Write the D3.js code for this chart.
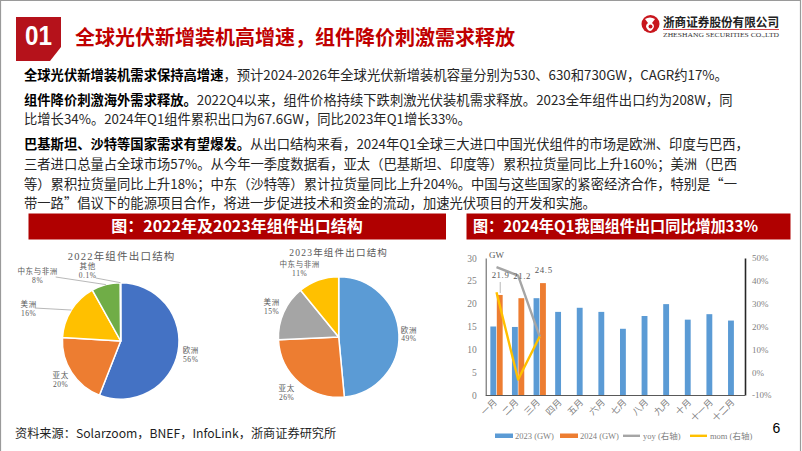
<!DOCTYPE html>
<html><head><meta charset="utf-8">
<script src="https://cdn.jsdelivr.net/npm/d3@7/dist/d3.min.js"></script>
<style>
html,body{margin:0;padding:0;background:#fff;}
svg{display:block;}
</style></head>
<body>
<svg id="s" width="802" height="451"></svg>
<script>
// ---------- data ----------
const pie2022Names = ["欧洲","亚太","美洲","中东与非洲","其他"];
const pie2022Values = [56,20,16,8,0.1];
const pie2022Labels = ["56%","20%","16%","8%","0.1%"];
const pie2023Names = ["欧洲","亚太","美洲","中东与非洲"];
const pie2023Values = [49,26,15,11];
const pie2023Labels = ["49%","26%","15%","11%"];

const months = ["一月","二月","三月","四月","五月","六月","七月","八月","九月","十月","十一月","十二月"];
const exp2023 = [15.0,14.9,21.2,18.2,19.1,18.2,14.5,17.3,19.9,16.5,17.7,16.3];
const exp2024 = [21.9,21.2,24.5];
const yoy = [0.46,0.423,0.156];
const mom = [0.35,-0.032,0.156];
const leftTicks = [0,5,10,15,20,25,30];
const rightTicks = [-0.1,0,0.1,0.2,0.3,0.4,0.5];

const bodyLines = [
  [[1,"全球光伏新增装机需求保持高增速"],[0,"，预计2024-2026年全球光伏新增装机容量分别为530、630和730GW，CAGR约17%。"]],
  [[1,"组件降价刺激海外需求释放。"],[0,"2022Q4以来，组件价格持续下跌刺激光伏装机需求释放。2023全年组件出口约为208W，同"]],
  [[0,"比增长34%。2024年Q1组件累积出口为67.6GW，同比2023年Q1增长33%。"]],
  [[1,"巴基斯坦、沙特等国家需求有望爆发。"],[0,"从出口结构来看，2024年Q1全球三大进口中国光伏组件的市场是欧洲、印度与巴西，"]],
  [[0,"三者进口总量占全球市场57%。从今年一季度数据看，亚太（巴基斯坦、印度等）累积拉货量同比上升160%；美洲（巴西"]],
  [[0,"等）累积拉货量同比上升18%；中东（沙特等）累计拉货量同比上升204%。中国与这些国家的紧密经济合作，特别是“一"]],
  [[0,"带一路”倡议下的能源项目合作，将进一步促进技术和资金的流动，加速光伏项目的开发和实施。"]]
];
const bodyY = [80, 105, 124, 149, 169, 188.5, 207.5];

// ---------- setup ----------
const svg = d3.select("#s");
const CJK = "'Noto Sans CJK SC','Noto Sans',sans-serif";
const SER = "'Liberation Serif','DejaVu Serif','Noto Sans CJK SC',serif";
const RED = "#C00000";

// frame
svg.append("path").attr("d","M0.5,451 V0.5 H800.5 V451").attr("fill","none").attr("stroke","#9a9a9a").attr("stroke-width",1.2);

// header box "01"
svg.append("path").attr("d","M16,17 H61 V47 L50,61 H16 Z").attr("fill","#B5121B");
svg.append("text").attr("x",38.5).attr("y",45).attr("text-anchor","middle")
  .attr("font-family","'Liberation Sans',Arial,sans-serif").attr("font-weight","bold").attr("font-size",27)
  .attr("fill","#fff").attr("textLength",27).attr("lengthAdjust","spacingAndGlyphs").text("01");
svg.append("text").attr("x",75).attr("y",44.5).attr("font-family",CJK).attr("font-weight","bold")
  .attr("font-size",20).attr("fill",RED).attr("textLength",440).attr("lengthAdjust","spacingAndGlyphs")
  .text("全球光伏新增装机高增速，组件降价刺激需求释放");

// logo
const logo = svg.append("g");
logo.append("circle").attr("cx",650.5).attr("cy",24).attr("r",9).attr("fill","#C8161D");
logo.append("path").attr("d","M645,19 Q650,16 655,19 L652,23 Q656,26 652,30 Q650,32 648,30 Q644,26 648,23 Z").attr("fill","#fff");
logo.append("circle").attr("cx",650.5).attr("cy",26.5).attr("r",2).attr("fill","#C8161D");
logo.append("text").attr("x",663).attr("y",26.5).attr("font-family",CJK).attr("font-weight","bold")
  .attr("font-size",12.5).attr("fill","#222").attr("textLength",116).attr("lengthAdjust","spacingAndGlyphs").text("浙商证券股份有限公司");
logo.append("line").attr("x1",663).attr("x2",779).attr("y1",29.5).attr("y2",29.5).attr("stroke","#C8161D").attr("stroke-width",0.8);
logo.append("text").attr("x",663).attr("y",36.5).attr("font-family",SER)
  .attr("font-size",7).attr("fill","#333").attr("textLength",116).attr("lengthAdjust","spacingAndGlyphs").text("ZHESHANG SECURITIES CO.,LTD");

// body text
bodyLines.forEach((ln,i)=>{
  const t = svg.append("text").attr("x",24).attr("y",bodyY[i]).attr("font-family",CJK)
    .attr("font-size",13.3).attr("fill","#1f1f1f");
  ln.forEach(seg=>{
    t.append("tspan").attr("font-weight",seg[0]?"bold":"normal").attr("fill",seg[0]?"#000":"#262626").text(seg[1]);
  });
});

// banners
svg.append("rect").attr("x",28.5).attr("y",213.5).attr("width",417.5).attr("height",26).attr("fill","#B00000");
svg.append("text").attr("x",237).attr("y",232).attr("text-anchor","middle").attr("font-family",CJK)
    .attr("font-weight","bold").attr("font-size",16).attr("fill","#fff").text("图：2022年及2023年组件出口结构");
svg.append("rect").attr("x",466.5).attr("y",213.5).attr("width",324).attr("height",26).attr("fill","#B00000");
svg.append("text").attr("x",473).attr("y",232).attr("font-family",CJK)
    .attr("font-weight","bold").attr("font-size",16).attr("fill","#fff").attr("textLength",285).attr("lengthAdjust","spacingAndGlyphs")
    .text("图：2024年Q1我国组件出口同比增加33%");

// ---------- pies ----------
function drawPie(cfg){
  const g = svg.append("g").attr("transform",`translate(${cfg.cx},${cfg.cy})`);
  const pie = d3.pie().sort(null).value(d=>d)(cfg.values);
  const arc = d3.arc().innerRadius(0).outerRadius(cfg.r);
  g.selectAll("path").data(pie).join("path").attr("d",arc)
    .attr("fill",(d,i)=>cfg.colors[i]).attr("stroke","#fff").attr("stroke-width",1.5).attr("stroke-linejoin","round");
  svg.append("text").attr("x",cfg.cx+cfg.titleDx).attr("y",cfg.titleY).attr("text-anchor","middle")
    .attr("font-family",SER).attr("font-size",cfg.titleSize).attr("letter-spacing",1.2).attr("fill","#595959").text(cfg.title);
  pie.forEach((d,i)=>{
    const mid = (d.startAngle+d.endAngle)/2;
    const lp = cfg.labelPos[i];
    let lx, ly;
    if(lp.dx!==undefined){ lx = lp.dx; ly = lp.dy; }
    else { const R = cfg.r + lp.rr; lx = R*Math.sin(mid); ly = -R*Math.cos(mid); }
    if(lp.leader){
      const ex = cfg.r*Math.sin(mid), ey = -cfg.r*Math.cos(mid);
      g.append("line").attr("x1",lp.leader[0]).attr("y1",lp.leader[1]).attr("x2",ex).attr("y2",ey)
        .attr("stroke","#a6a6a6").attr("stroke-width",0.8);
    }
    const t = g.append("text").attr("x",lx).attr("y",ly).attr("text-anchor","middle")
      .attr("font-family",SER).attr("font-size",7.5).attr("letter-spacing",0.6).attr("fill","#595959");
    t.append("tspan").attr("x",lx).attr("dy",-1).text(cfg.names[i]);
    t.append("tspan").attr("x",lx).attr("dy",8.5).text(cfg.labels[i]);
  });
}
drawPie({cx:120.7, cy:341, r:58.3, values:pie2022Values, names:pie2022Names, labels:pie2022Labels,
  colors:["#4472C4","#ED7D31","#FFC000","#70AD47","#5B9BD5"], title:"2022年组件出口结构", titleY:260, titleDx:1, titleSize:10.5,
  labelPos:[{rr:13},{rr:13},{dx:-92,dy:-33,leader:[-86,-33]},{dx:-83,dy:-66,leader:[-65,-64]},{dx:-33,dy:-71,leader:[-25,-63]}]});
drawPie({cx:338.7, cy:337, r:60.3, values:pie2023Values, names:pie2023Names, labels:pie2023Labels,
  colors:["#5B9BD5","#ED7D31","#A5A5A5","#FFC000"], title:"2023年组件出口结构", titleY:256, titleDx:0, titleSize:9.5,
  labelPos:[{rr:10},{dx:-52,dy:55},{dx:-67,dy:-31},{dx:-39,dy:-69}]});

// source
svg.append("text").attr("x",15).attr("y",437.5).attr("font-family",CJK).attr("font-size",12.2).attr("fill","#1f1f1f")
  .text("资料来源：Solarzoom，BNEF，InfoLink，浙商证券研究所");

// ---------- bar/line chart ----------
const X0 = 485.7, X1 = 745, Y0 = 395, Y1 = 258;
const x = d3.scaleBand().domain(months).range([X0,X1]).padding(0);
const yL = d3.scaleLinear().domain([0,30]).range([Y0,Y1]);
const yR = d3.scaleLinear().domain([-0.1,0.5]).range([Y0,Y1]);
const groupW = x.bandwidth()*0.57, bw = groupW/2 - 0.3;
const cx = m => x(m)+x.bandwidth()/2;

const bc = svg.append("g");
bc.selectAll("rect.a").data(exp2023).join("rect").attr("class","a")
  .attr("x",(d,i)=>cx(months[i])-groupW/2).attr("y",d=>yL(d)).attr("width",bw).attr("height",d=>Y0-yL(d)).attr("fill","#5B9BD5");
bc.selectAll("rect.b").data(exp2024).join("rect").attr("class","b")
  .attr("x",(d,i)=>cx(months[i])+groupW/2-bw).attr("y",d=>yL(d)).attr("width",bw).attr("height",d=>Y0-yL(d)).attr("fill","#ED7D31");

// axes
const axL = bc.append("g").attr("transform",`translate(${X0},0)`)
  .call(d3.axisLeft(yL).tickValues(leftTicks).tickSize(0).tickPadding(9));
axL.select(".domain").attr("stroke","#595959").attr("stroke-width",1);
axL.selectAll("text").attr("font-family",SER).attr("font-size",9.5).attr("fill","#7f7f7f");
const axR = bc.append("g").attr("transform",`translate(${X1},0)`)
  .call(d3.axisRight(yR).tickValues(rightTicks).tickSize(0).tickPadding(7).tickFormat(d=>Math.round(d*100)+"%"));
axR.select(".domain").attr("stroke","#262626").attr("stroke-width",1.6);
axR.selectAll("text").attr("font-family",SER).attr("font-size",9).attr("fill","#7f7f7f");
bc.append("line").attr("x1",X0).attr("x2",X1).attr("y1",Y0+0.5).attr("y2",Y0+0.5).attr("stroke","#595959").attr("stroke-width",1);

// x labels
bc.selectAll("text.xl").data(months).join("text").attr("class","xl")
  .attr("transform",d=>`translate(${cx(d)+1},${Y0+8}) rotate(-45)`).attr("text-anchor","end")
  .attr("font-family",CJK).attr("font-size",9).attr("fill","#7f7f7f").text(d=>d);

// GW
bc.append("text").attr("x",489).attr("y",257.5).attr("font-family",SER).attr("font-size",9).attr("fill","#595959").text("GW");

// lines
const lineGen = d3.line().x((d,i)=>cx(months[i])).y(d=>yR(d));
bc.append("path").attr("d",lineGen(yoy)).attr("fill","none").attr("stroke","#A5A5A5").attr("stroke-width",2.4).attr("stroke-linejoin","round");
bc.append("path").attr("d",lineGen(mom)).attr("fill","none").attr("stroke","#FFC000").attr("stroke-width",2.4).attr("stroke-linejoin","round");

// data labels
const labelLift = [17, 19.5, 10];
exp2024.forEach((v,i)=>{
  const bx = cx(months[i])+groupW/2-bw/2;
  bc.append("text").attr("x",bx+0.8).attr("y",yL(v)-labelLift[i]).attr("text-anchor","middle")
    .attr("font-family",SER).attr("font-size",8.8).attr("letter-spacing",0.6).attr("fill","#595959").text(v.toFixed(1));
  if(i===0){
    bc.append("line").attr("x1",bx+0.5).attr("x2",bx+0.5).attr("y1",yL(v)-labelLift[i]+4).attr("y2",yL(v)-2)
      .attr("stroke","#a6a6a6").attr("stroke-width",0.8);
  }
});

// legend
const legend = [
  {t:"2023 (GW)", c:"#5B9BD5", x:495, type:"rect"},
  {t:"2024 (GW)", c:"#ED7D31", x:560, type:"rect"},
  {t:"yoy (右轴)", c:"#A5A5A5", x:623, type:"line"},
  {t:"mom (右轴)", c:"#FFC000", x:690, type:"line"}
];
legend.forEach(l=>{
  if(l.type==="rect") svg.append("rect").attr("x",l.x).attr("y",433.5).attr("width",18).attr("height",4.5).attr("fill",l.c);
  else svg.append("line").attr("x1",l.x).attr("x2",l.x+17).attr("y1",435.8).attr("y2",435.8).attr("stroke",l.c).attr("stroke-width",2.4);
  svg.append("text").attr("x",l.x+20).attr("y",439).attr("font-family",SER).attr("font-size",8.5).attr("fill","#7f7f7f").text(l.t);
});

// page number
svg.append("text").attr("x",776.5).attr("y",433).attr("text-anchor","middle").attr("font-family","'Liberation Sans',Arial,sans-serif")
  .attr("font-size",14).attr("fill","#000").text("6");
</script>
</body></html>
